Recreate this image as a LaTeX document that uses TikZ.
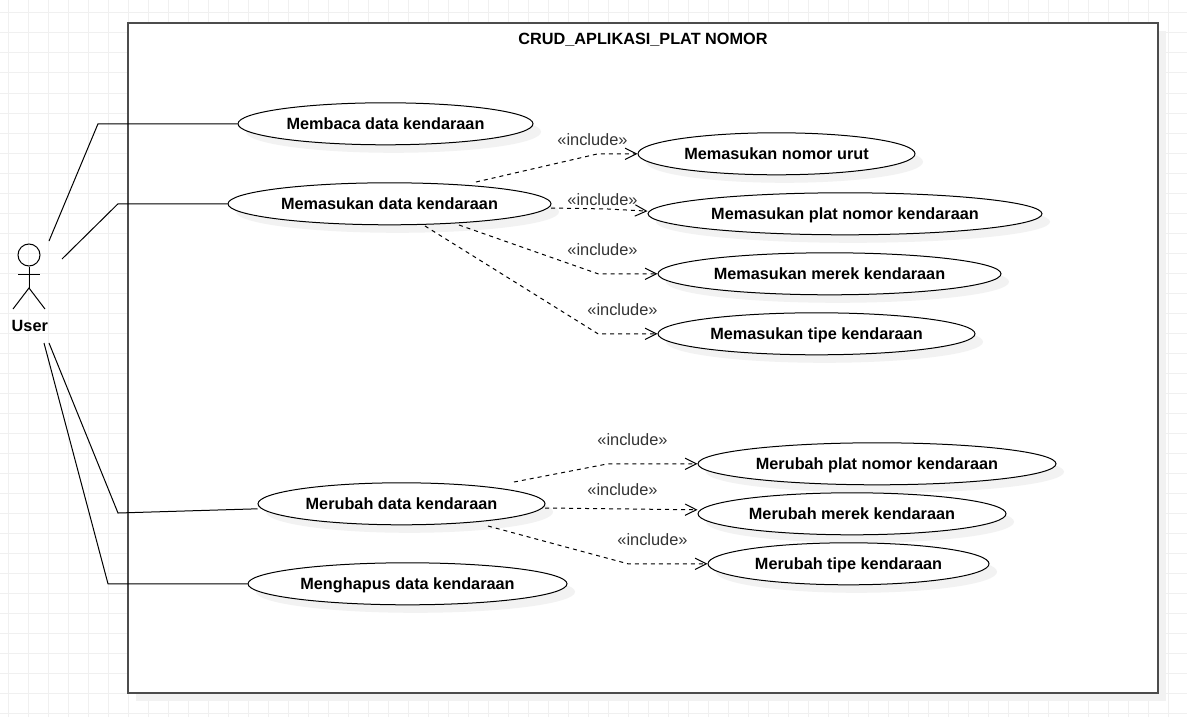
\documentclass[tikz,border=0pt]{standalone}
\usepackage{fontspec}
\setmainfont{Liberation Sans}
\usetikzlibrary{arrows.meta, shapes.geometric, positioning}
\definecolor{gridline}{HTML}{F0F0F0}
\definecolor{dropfill}{HTML}{F2F2F2}
\definecolor{inctext}{HTML}{333333}
\begin{document}
\begin{tikzpicture}[
  x=0.75pt,y=-0.75pt,
  usecase/.style={draw,fill=white,ellipse,inner sep=0pt,line width=0.75pt,
                  minimum height=31.5pt,text height=11pt,text depth=1.8pt,
                  font=\fontsize{12.2}{14}\selectfont\bfseries},
  assoc/.style={line width=0.75pt},
  inc/.style={dashed,dash pattern=on 3pt off 3pt,line width=0.75pt,
              -{Straight Barb[length=8.5pt,width=8.5pt,line width=0.75pt]}},
  inclabel/.style={font=\fontsize{12.3}{14}\selectfont,text=inctext,inner sep=0pt}
]
  \useasboundingbox (0,0) rectangle (1187,717);

  % grid
  \foreach \gx in {8,28,...,1188} {\draw[gridline,line width=0.75pt] (\gx,0) -- (\gx,717);}
  \foreach \gy in {13,33,...,713} {\draw[gridline,line width=0.75pt] (0,\gy) -- (1187,\gy);}

  % system box
  \fill[dropfill] (136,31) rectangle (1166,701);
  \node[draw=black!70,fill=white,line width=1pt,minimum width=772.5pt,minimum height=502.5pt,
        inner sep=0pt] (system) at (643,358) {};
  \node[font=\fontsize{12.2}{14}\selectfont\bfseries,inner sep=0pt] (title) at (643,40) {CRUD\_APLIKASI\_PLAT NOMOR};

  % use cases, shadow first
  \foreach \cx/\cy/\rx in {385.5/123.8/147.5, 389.5/203.8/161.5, 776.5/153.8/138.5, 845/213.8/197,
                           829.5/273.8/171.5, 816.5/333.8/158.5, 401.5/503.8/143.5, 407.5/583.8/159.5,
                           877/463.8/179, 852/513.8/154, 848.5/563.8/140.5}
    \fill[dropfill] (\cx+8,\cy+8) ellipse [x radius=\rx*0.75pt,y radius=15.75pt];

  \node[usecase,minimum width=221.25pt] (baca)  at (385.5,123.8) {Membaca data kendaraan};
  \node[usecase,minimum width=242.25pt] (masuk) at (389.5,203.8) {Memasukan data kendaraan};
  \node[usecase,minimum width=207.75pt] (urut)  at (776.5,153.8) {Memasukan nomor urut};
  \node[usecase,minimum width=295.5pt] (plat)  at (845,213.8) {Memasukan plat nomor kendaraan};
  \node[usecase,minimum width=257.25pt] (merek) at (829.5,273.8) {Memasukan merek kendaraan};
  \node[usecase,minimum width=237.75pt] (tipe)  at (816.5,333.8) {Memasukan tipe kendaraan};
  \node[usecase,minimum width=215.25pt] (ubah)  at (401.5,503.8) {Merubah data kendaraan};
  \node[usecase,minimum width=239.25pt] (hapus) at (407.5,583.8) {Menghapus data kendaraan};
  \node[usecase,minimum width=268.5pt] (uplat) at (877,463.8) {Merubah plat nomor kendaraan};
  \node[usecase,minimum width=231pt] (umerek) at (852,513.8) {Merubah merek kendaraan};
  \node[usecase,minimum width=210.75pt] (utipe) at (848.5,563.8) {Merubah tipe kendaraan};

  % actor
  \node[draw,circle,minimum size=16.5pt,inner sep=0pt,line width=0.75pt] (head) at (29,255) {};
  \coordinate (hip) at (29,288);
  \draw[assoc] (head.south) -- (hip);
  \draw[assoc] (18,274) -- (40,274);
  \draw[assoc] (13,309) -- (hip) -- (45,309);
  \node[font=\fontsize{12.2}{14}\selectfont\bfseries,inner sep=0pt] (user) at (29.8,325.5) {User};

  % free ends at the actor
  \coordinate (u1) at (49,241);
  \coordinate (u2) at (62,259);
  \coordinate (u3) at (49,343);
  \coordinate (u4) at (44,343);

  \draw[assoc] (u1) -- (98,123.8) -- (baca.west);
  \draw[assoc] (u2) -- (118,203.8) -- (masuk.west);
  \draw[assoc] (u3) -- (118,513) -- ([yshift=-3.75pt]ubah.west);
  \draw[assoc] (u4) -- (108,583.8) -- (hapus.west);

  % include, free ends at the base use case
  \coordinate (m1) at (476,182);
  \coordinate (m2) at (551,208);
  \coordinate (m3) at (459,225);
  \coordinate (m4) at (425,226);
  \coordinate (r1) at (514,482);
  \coordinate (r2) at (545,508);
  \coordinate (r3) at (488,526);

  \draw[inc] (m1) -- (598,153.8) -- (urut.west);
  \draw[inc] (m2) -- (608,209) -- ([yshift=2pt]plat.west);
  \draw[inc] (m3) -- (598,273.8) -- (merek.west);
  \draw[inc] (m4) -- (598,333.8) -- (tipe.west);
  \draw[inc] (r1) -- (608,463.8) -- (uplat.west);
  \draw[inc] (r2) -- ([yshift=3pt]umerek.west);
  \draw[inc] (r3) -- (628,563.8) -- (utipe.west);

  \node[inclabel] (l1) at (592.5,140) {«include»};
  \node[inclabel] (l2) at (602.5,200) {«include»};
  \node[inclabel] (l3) at (602.5,250) {«include»};
  \node[inclabel] (l4) at (622.5,310) {«include»};
  \node[inclabel] (l5) at (632.5,440) {«include»};
  \node[inclabel] (l6) at (622.5,490) {«include»};
  \node[inclabel] (l7) at (652.5,540) {«include»};
\end{tikzpicture}
\end{document}
